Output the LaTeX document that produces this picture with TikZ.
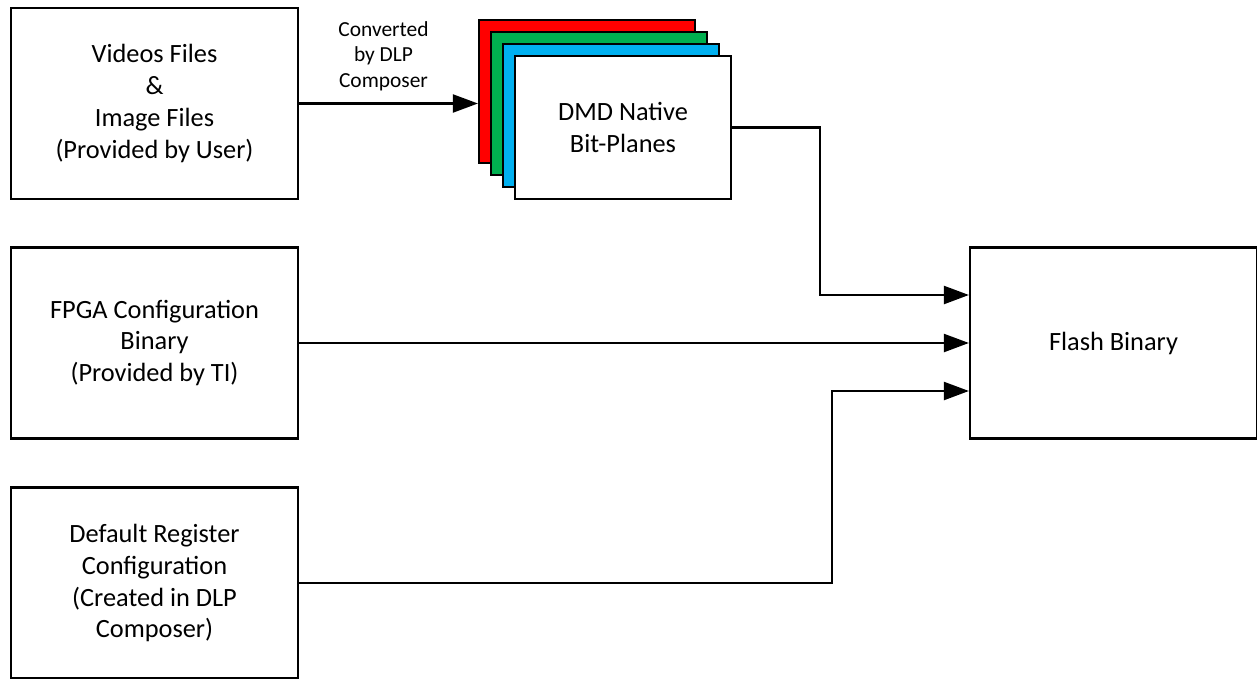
\documentclass[tikz,border=0pt]{standalone}
\usepackage{fontspec}
\setmainfont{Carlito}
\usepackage{tikz}
\usetikzlibrary{arrows.meta,positioning,calc}
\definecolor{planered}{HTML}{FF0000}
\definecolor{planegreen}{HTML}{00B050}
\definecolor{planeblue}{HTML}{00B0F0}

\begin{document}
\begin{tikzpicture}[
    x=0.02cm, y=-0.02cm,
    block/.style={rectangle, draw, line width=1.3pt, fill=white, inner sep=0pt,
                  minimum width=5.74cm, minimum height=3.82cm, align=center,
                  font=\fontsize{15}{18.2}\selectfont},
    plane/.style={rectangle, draw, line width=1.3pt, inner sep=0pt,
                  minimum width=4.32cm, minimum height=2.86cm, align=center,
                  font=\fontsize{15}{18.2}\selectfont},
    arrow/.style={-{Triangle[length=0.5cm, width=0.36cm]}, line width=1.3pt},
    lbl/.style={font=\fontsize{12.2}{14.5}\selectfont, align=center}
]
\useasboundingbox (0,0) rectangle (1257,679);

%% ── Input blocks ─────────────────────────────────────────────────
\node[block] (videos)  at (154.5,103.5) {Videos Files\\\&\\Image Files\\(Provided by User)};
\node[block] (fpga)    at (154.5,343)   {FPGA Configuration\\Binary\\(Provided by TI)};
\node[block] (regcfg)  at (154.5,583)   {Default Register\\Configuration\\(Created in DLP\\Composer)};

%% ── Bit-plane stack ──────────────────────────────────────────────
\node[plane, fill=planered]   (planeR) at (587,91.5)  {};
\node[plane, fill=planegreen] (planeG) at (599,103.5) {};
\node[plane, fill=planeblue]  (planeB) at (611,115.5) {};
\node[plane, fill=white]      (dmd)    at (623,127.5) {DMD Native\\Bit-Planes};

%% ── Output ───────────────────────────────────────────────────────
\node[block] (flash) at (1113.5,343) {Flash Binary};

%% ── Arrows ───────────────────────────────────────────────────────
\draw[arrow] (videos.east) -- node[lbl, above=0.12cm, xshift=-0.1cm] {Converted\\by DLP\\Composer} (videos.east -| planeR.west);
\draw[arrow] (dmd.east) -| (820,295) -- (flash.west |- 0,295);
\draw[arrow] (fpga.east) -- (flash.west);
\draw[arrow] (regcfg.east) -| (832,391) -- (flash.west |- 0,391);

\end{tikzpicture}
\end{document}
